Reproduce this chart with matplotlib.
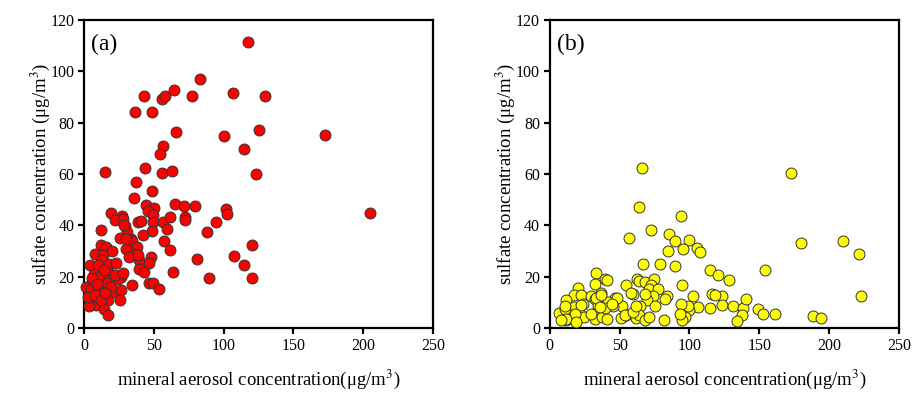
import matplotlib
matplotlib.use("Agg")
import matplotlib.pyplot as plt

# Panel (a) data: mineral aerosol vs sulfate
a_x = [117.5, 83.3, 43.3, 56.2, 58.1, 64.6, 77.7, 107.0, 36.4, 48.6, 65.8, 100.0, 125.5,
       56.5, 54.5, 114.6, 14.8, 43.8, 56.2, 62.9, 123.2, 129.7, 172.5, 204.8, 120.6, 120.3,
       37.1, 48.6, 35.9, 44.5, 50.0, 45.7, 49.5, 65.1, 71.8, 79.5, 19.6, 27.0, 22.0, 38.8,
       40.7, 49.5, 56.7, 61.7, 72.5, 72.5, 101.4, 102.6, 94.7, 12.2, 29.4, 31.1, 48.6, 59.8,
       42.1, 88.3, 25.6, 33.5, 34.7, 57.4, 29.9, 37.8, 37.1, 32.1, 61.5, 48.1, 46.4, 39.5,
       39.2, 43.3, 64.1, 81.1, 107.4, 114.6, 89.7, 46.7, 49.5, 34.7, 54.0, 26.6,
       11.9, 15.6, 7.9, 13.6, 13.1, 4.5, 9.8, 17.7, 7.4, 18.2, 24.6, 13.4, 16.5, 5.7, 1.7,
       5.0, 11.0, 21.3, 26.6, 26.1, 17.0, 5.0, 8.6, 3.8, 14.6, 17.0, 30.1, 38.5, 27.8, 29.0,
       10.0, 14.0, 20.0, 3.0, 8.0, 12.0, 22.0, 19.0, 6.0, 15.0, 9.0, 23.0, 28.0]
a_y = [111.5, 97.2, 90.5, 89.2, 90.3, 92.9, 90.5, 91.5, 84.1, 84.1, 76.4, 74.8, 77.0,
       71.0, 67.7, 69.6, 60.8, 62.2, 60.3, 61.3, 60.0, 90.4, 75.1, 44.8, 32.2, 19.5,
       57.0, 53.5, 50.8, 47.9, 46.9, 45.6, 43.9, 48.3, 47.4, 47.7, 44.8, 43.5, 42.0, 41.3,
       41.6, 41.3, 41.3, 43.1, 43.2, 42.2, 46.2, 44.6, 41.4, 38.1, 39.9, 37.4, 37.7, 38.4,
       36.1, 37.3, 35.1, 34.7, 33.9, 33.8, 30.9, 31.6, 28.7, 27.5, 30.3, 27.8, 25.5, 26.4,
       23.1, 21.8, 22.0, 26.8, 28.2, 24.5, 19.5, 17.7, 17.7, 16.6, 15.1, 19.9,
       32.2, 31.6, 29.0, 28.6, 26.4, 24.4, 24.4, 25.1, 21.2, 21.4, 18.9, 18.9, 17.5, 17.9, 16.0,
       15.3, 14.7, 14.0, 15.0, 11.1, 10.8, 11.4, 8.8, 8.5, 7.6, 5.2, 34.8, 28.3, 42.6, 40.0,
       20.0, 22.5, 30.0, 12.0, 13.0, 11.0, 20.5, 16.0, 19.5, 13.5, 17.0, 25.5, 21.5]

# Panel (b) data
b_x = [66.0, 63.6, 93.7, 72.2, 56.7, 85.4, 89.9, 99.9, 105.5, 107.3, 95.1, 84.6, 67.1, 78.9,
       89.9, 114.5, 120.5, 33.2, 39.7, 40.9, 32.5, 20.5, 54.5, 62.4, 64.1, 67.9, 74.3, 72.7,
       70.7, 94.7, 77.5, 36.6, 17.6, 11.5, 22.5, 29.6, 32.5, 46.8, 59.3, 69.6, 73.6, 69.6,
       83.9, 82.2, 102.6, 116.2, 123.4, 123.4, 114.8, 106.2, 99.9, 99.0, 93.7, 97.0, 94.7,
       93.0, 75.0, 64.3, 51.6, 45.4, 40.9, 42.0, 34.4, 23.9, 17.6, 6.7, 11.5, 18.7, 18.7,
       21.7, 24.8, 31.3, 32.5, 37.3, 40.9, 51.1, 54.5, 61.7, 64.1, 68.4, 70.7, 81.5, 11.0,
       39.7, 172.9, 179.6, 210.2, 221.4, 154.4, 128.1, 222.8, 118.5, 131.0, 138.2, 140.6,
       137.7, 134.1, 149.2, 152.8, 161.1, 188.4, 193.9, 33.4, 37.0, 47.8, 58.5, 11.2, 22.7,
       17.9, 11.9, 8.3, 19.1, 29.8, 35.9, 44.7, 54.2, 59.8, 61.4, 68.4]
b_y = [62.3, 47.1, 43.5, 38.3, 35.2, 36.8, 33.8, 34.2, 31.3, 29.6, 30.8, 30.0, 24.8, 25.1,
       24.0, 22.7, 20.8, 21.4, 19.2, 18.6, 17.3, 15.7, 16.8, 18.9, 18.2, 17.9, 19.2, 16.6,
       15.3, 16.8, 15.3, 13.6, 12.7, 11.1, 12.7, 12.5, 11.4, 11.7, 13.4, 12.5, 12.5, 11.1,
       12.5, 11.2, 12.6, 13.1, 12.5, 9.1, 7.7, 8.2, 7.2, 8.5, 9.5, 4.3, 3.0,
       5.3, 8.7, 8.6, 8.6, 8.7, 9.5, 10.1, 8.6, 9.5, 8.2, 5.8, 3.3, 4.9, 2.7,
       5.6, 4.3, 5.6, 3.4, 4.3, 3.7, 4.0, 5.1, 4.0, 5.2, 3.0, 4.3, 3.3, 7.6,
       7.9, 60.3, 33.1, 33.8, 29.0, 22.7, 18.6, 12.3, 12.8, 8.7, 7.9, 11.4,
       4.9, 2.7, 7.6, 5.3, 5.3, 4.6, 3.8, 11.7, 13.0, 11.7, 13.8, 8.6, 8.8,
       5.6, 3.7, 3.0, 2.3, 5.6, 8.2, 9.5, 4.9, 6.2, 8.6, 13.4]

x_ticks = [0, 50, 100, 150, 200, 250]
y_ticks = [0, 20, 40, 60, 80, 100, 120]
panel_labels = ["(a)", "(b)"]
x_label = "mineral aerosol concentration(\u03bcg/m$^3$)"
y_label = "sulfate concentration (\u03bcg/m$^3$)"

plt.rcParams['font.family'] = ['Liberation Serif', 'DejaVu Serif']
plt.rcParams['mathtext.fontset'] = 'stix'

fig = plt.figure(figsize=(9.15, 3.95), dpi=100)
ax1 = fig.add_axes([0.0918, 0.1696, 0.3814, 0.7798])
ax2 = fig.add_axes([0.6008, 0.1696, 0.3817, 0.7798])

for ax, xs, ys, col, lab in [(ax1, a_x, a_y, '#ff0000', panel_labels[0]),
                             (ax2, b_x, b_y, '#ffff00', panel_labels[1])]:
    ax.scatter(xs, ys, s=62, c=col, edgecolors='#333333', linewidths=0.7, zorder=3, clip_on=False)
    ax.set_xlim(0, 250)
    ax.set_ylim(0, 120)
    ax.set_xticks(x_ticks)
    ax.set_yticks(y_ticks)
    for sp in ax.spines.values():
        sp.set_linewidth(1.6)
    ax.tick_params(direction='out', length=4, width=1.6, labelsize=11.5, top=False, right=False, pad=3)
    ax.set_xlabel(x_label, fontsize=13.5, labelpad=10)
    ax.set_ylabel(y_label, fontsize=13.5, labelpad=-1)
    ax.text(0.02, 0.955, lab, transform=ax.transAxes, fontsize=17, va='top', ha='left')

fig.savefig("out.png", dpi=100)
